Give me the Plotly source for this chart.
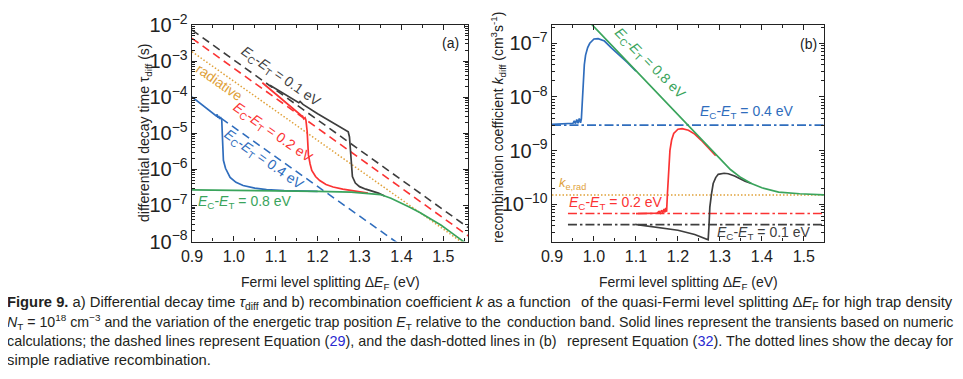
import plotly.graph_objects as go

# The page body keeps its default 8px margin, so the figure is made 16px smaller
# and every screen position below is measured in the 963x379 window.
WIN_W, WIN_H = 963, 379
OFF = 8
W, H = WIN_W - 2 * OFF, WIN_H - 2 * OFF

# ---------------- Panel (a): differential decay time tau_diff (s) ----------------
a_x_08 = [0.90, 1.00, 1.10, 1.20, 1.28, 1.32, 1.35, 1.375, 1.40, 1.42, 1.445, 1.47, 1.495, 1.52, 1.545, 1.56]
a_tau_08 = [2.69e-7, 2.63e-7, 2.51e-7, 2.45e-7, 2.34e-7, 2.19e-7, 2.0e-7, 1.58e-7, 1.17e-7, 8.9e-8,
            6.3e-8, 4.27e-8, 2.82e-8, 1.74e-8, 1.05e-8, 7.9e-9]

a_x_04 = [0.90, 0.93, 0.955, 0.958, 0.960, 0.962, 0.964, 0.966, 0.968, 0.971, 0.973, 0.975, 0.98, 0.991,
          1.005, 1.022, 1.05, 1.078, 1.12, 1.20]
a_tau_04 = [1.02e-4, 5.5e-5, 3.31e-5, 3.0e-5, 3.3e-5, 2.7e-5, 3.0e-5, 2.5e-5, 2.8e-5, 2.4e-5, 6.3e-6,
            1.78e-6, 1.07e-6, 6.0e-7, 4.37e-7, 3.55e-7, 3.02e-7, 2.75e-7, 2.57e-7, 2.45e-7]

a_x_02 = [1.068, 1.10, 1.14, 1.16, 1.164, 1.167, 1.170, 1.172, 1.175, 1.178, 1.182, 1.186, 1.195, 1.205,
          1.22, 1.237, 1.26, 1.285, 1.32]
a_tau_02 = [2.51e-4, 1.2e-4, 4.79e-5, 3.16e-5, 3.0e-5, 2.5e-5, 2.7e-5, 2.29e-5, 1.12e-5, 2.51e-6, 1.41e-6,
            9.3e-7, 6.3e-7, 4.9e-7, 3.8e-7, 3.24e-7, 2.82e-7, 2.51e-7, 2.19e-7]

a_x_01 = [1.086, 1.12, 1.15, 1.155, 1.158, 1.162, 1.165, 1.20, 1.24, 1.273, 1.276, 1.278, 1.280, 1.283,
          1.29, 1.30, 1.315, 1.33, 1.345, 1.36]
a_tau_01 = [2.14e-4, 1.24e-4, 7.76e-5, 7.0e-5, 7.6e-5, 6.6e-5, 6.31e-5, 3.47e-5, 1.86e-5, 1.1e-5, 7.9e-6,
            3.55e-6, 1.12e-6, 6.3e-7, 4.17e-7, 3.31e-7, 2.82e-7, 2.51e-7, 2.19e-7, 1.82e-7]

# Equation (29) (dashed) and radiative (dotted)
a_eq_x_01 = [0.90, 1.56]
a_eq_tau_01 = [7.24e-3, 2.41e-8]
a_eq_x_02 = [0.90, 1.56]
a_eq_tau_02 = [4.27e-3, 1.42e-8]
a_eq_x_04 = [0.97, 1.40]
a_eq_tau_04 = [2.57e-5, 7.66e-9]
a_rad_x = [0.90, 1.56]
a_rad_tau = [1.82e-3, 7.1e-9]

# ---------------- Panel (b): recombination coefficient k_diff (cm^3 s^-1) ----------------
b_x_08 = [0.99, 1.25, 1.275, 1.30, 1.325, 1.35, 1.375, 1.40, 1.44, 1.49, 1.55]
b_k_08 = [2.45e-7, 1.78e-9, 1.12e-9, 6.9e-10, 4.47e-10, 3.16e-10, 2.45e-10, 2.04e-10, 1.7e-10, 1.58e-10,
          1.51e-10]

b_x_04 = [0.90, 0.93, 0.95, 0.953, 0.956, 0.959, 0.962, 0.965, 0.968, 0.970, 0.972, 0.974, 0.977, 0.980,
          0.985, 0.99, 1.0, 1.01, 1.025, 1.042, 1.055, 1.08, 1.10]
b_k_04 = [3.09e-9, 3.16e-9, 3.24e-9, 3.6e-9, 3.2e-9, 3.8e-9, 3.25e-9, 4.0e-9, 3.3e-9, 3.9e-9, 7.94e-9,
          2.0e-8, 3.98e-8, 6.03e-8, 8.32e-8, 1.0e-7, 1.2e-7, 1.22e-7, 1.1e-7, 8.13e-8, 6.61e-8, 4.37e-8,
          3.02e-8]

b_x_02 = [1.10, 1.13, 1.15, 1.155, 1.158, 1.161, 1.164, 1.167, 1.169, 1.171, 1.173, 1.175, 1.178, 1.181,
          1.185, 1.19, 1.20, 1.21, 1.225, 1.24, 1.255, 1.27, 1.29]
b_k_02 = [6.76e-11, 6.85e-11, 6.9e-11, 7.4e-11, 6.9e-11, 7.8e-11, 7.0e-11, 8.2e-11, 7.1e-11, 8.6e-11,
          7.3e-11, 1.58e-10, 5.0e-10, 1.02e-9, 1.58e-9, 2.09e-9, 2.51e-9, 2.57e-9, 2.4e-9, 2.04e-9,
          1.58e-9, 1.17e-9, 8.1e-10]

b_x_01 = [1.098, 1.15, 1.20, 1.24, 1.256, 1.272, 1.274, 1.276, 1.28, 1.284, 1.29, 1.296, 1.31, 1.32,
          1.335, 1.348, 1.36, 1.375]
b_k_01 = [4.27e-11, 3.8e-11, 3.31e-11, 2.75e-11, 2.45e-11, 2.19e-11, 3.98e-11, 8.9e-11, 1.58e-10,
          2.45e-10, 3.16e-10, 3.63e-10, 3.8e-10, 3.72e-10, 3.39e-10, 3.02e-10, 2.69e-10, 2.45e-10]

# Equation (32) (dash-dotted) and radiative k (dotted)
b_eq_x_04 = [0.90, 1.55]
b_eq_k_04 = [3.0e-9, 3.0e-9]
b_eq_x_02 = [0.938, 1.55]
b_eq_k_02 = [6.8e-11, 6.8e-11]
b_eq_x_01 = [0.938, 1.55]
b_eq_k_01 = [4.2e-11, 4.2e-11]
b_rad_x = [0.90, 1.55]
b_rad_k = [1.5e-10, 1.5e-10]

x_ticks = [0.9, 1.0, 1.1, 1.2, 1.3, 1.4, 1.5]
x_tick_text = ["0.9", "1.0", "1.1", "1.2", "1.3", "1.4", "1.5"]

# ---------------- styles ----------------
C_BLACK = "#3e3e3e"
C_RED = "#fb3333"
C_BLUE = "#2f6dbd"
C_GREEN = "#3aa45c"
C_ORANGE = "#e0a13a"
DASH = "8px,5px"
DASHDOT = "9px,3px,2.5px,3px"
DOT = "1.5px,2px"

fig = go.Figure()


def line(x, y, color, ax, width=1.7, dash="solid"):
    fig.add_trace(go.Scatter(
        x=x, y=y, mode="lines", xaxis="x" if ax == 1 else "x2", yaxis="y" if ax == 1 else "y2",
        line=dict(color=color, width=width, dash=dash), showlegend=False, hoverinfo="skip"))


# panel (a)
line(a_eq_x_01, a_eq_tau_01, C_BLACK, 1, 1.6, DASH)
line(a_eq_x_02, a_eq_tau_02, C_RED, 1, 1.6, DASH)
line(a_eq_x_04, a_eq_tau_04, C_BLUE, 1, 1.6, DASH)
line(a_rad_x, a_rad_tau, C_ORANGE, 1, 1.5, DOT)
line(a_x_01, a_tau_01, C_BLACK, 1)
line(a_x_02, a_tau_02, C_RED, 1)
line(a_x_04, a_tau_04, C_BLUE, 1)
line(a_x_08, a_tau_08, C_GREEN, 1)

# panel (b)
line(b_eq_x_04, b_eq_k_04, C_BLUE, 2, 1.6, DASHDOT)
line(b_eq_x_02, b_eq_k_02, C_RED, 2, 1.6, DASHDOT)
line(b_eq_x_01, b_eq_k_01, C_BLACK, 2, 1.6, DASHDOT)
line(b_rad_x, b_rad_k, C_ORANGE, 2, 1.5, DOT)
line(b_x_01, b_k_01, C_BLACK, 2)
line(b_x_02, b_k_02, C_RED, 2)
line(b_x_04, b_k_04, C_BLUE, 2)
line(b_x_08, b_k_08, C_GREEN, 2)


def px(xp):
    return (xp - OFF) / W


def py(yp):
    return 1 - (yp - OFF) / H


FONT = "Liberation Sans, Arial, sans-serif"
AX_COL = "#222222"
tickfont = dict(family=FONT, size=16, color=AX_COL)

common_x = dict(
    tickvals=x_ticks, ticktext=x_tick_text, ticks="inside", ticklen=5, tickwidth=1.2, tickcolor=AX_COL,
    showline=True, linecolor=AX_COL, linewidth=1.3, mirror="allticks", showgrid=False, zeroline=False,
    automargin=False, tickfont=tickfont,
    minor=dict(dtick=0.05, ticks="inside", ticklen=3, tickcolor=AX_COL, tickwidth=1, showgrid=False),
)
common_y = dict(
    type="log", dtick=1, exponentformat="power", ticks="inside", ticklen=5, tickwidth=1.2, tickcolor=AX_COL,
    showline=True, linecolor=AX_COL, linewidth=1.3, mirror="allticks", showgrid=False, zeroline=False,
    automargin=False, tickfont=tickfont,
    minor=dict(dtick="D1", ticks="inside", ticklen=3, tickcolor=AX_COL, tickwidth=1, showgrid=False),
)

fig.update_layout(
    template="none",
    width=W, height=H, autosize=False,
    margin=dict(l=0, r=0, t=0, b=0, pad=0),
    paper_bgcolor="white", plot_bgcolor="white",
    font=dict(family=FONT, color=AX_COL),
    xaxis=dict(domain=[px(192), px(468)], range=[0.9, 1.559], anchor="y", **common_x),
    yaxis=dict(domain=[py(241.5), py(25)], range=[-8, -2], anchor="x", **common_y),
    xaxis2=dict(domain=[px(552), px(824)], range=[0.9, 1.548], anchor="y2", **common_x),
    yaxis2=dict(domain=[py(241.5), py(25)], range=[-10.69, -6.66], anchor="x2", **common_y),
)

ann = []


def text(x, y, s, color=AX_COL, size=14, angle=0, xanchor="center", yanchor="middle", family=FONT):
    ann.append(dict(x=px(x), y=py(y), xref="paper", yref="paper", text=s, showarrow=False,
                    textangle=angle, xanchor=xanchor, yanchor=yanchor,
                    font=dict(family=family, size=size, color=color)))


ECET = "<i>E</i><sub>C</sub>-<i>E</i><sub>T</sub>"
# axis titles
text(145, 133, "differential decay time \u03c4<sub>diff</sub> (s)", size=14, angle=-90)
text(330, 283, "Fermi level splitting \u0394<i>E</i><sub>F</sub> (eV)", size=14)
text(498, 128, "recombination coefficient <i>k</i><sub>diff</sub> (cm<sup>3</sup>s<sup>-1</sup>)", size=14, angle=-90)
text(688, 283, "Fermi level splitting \u0394<i>E</i><sub>F</sub> (eV)", size=14)

# panel (a) labels
text(450, 43, "(a)", size=14)
text(281, 77, ECET + " = 0.1 eV", color=C_BLACK, size=14, angle=35)
text(219, 82, "radiative", color=C_ORANGE, size=14, angle=35)
text(273, 133, ECET + " = 0.2 eV", color=C_RED, size=14, angle=35)
text(264, 160, ECET + " = 0.4 eV", color=C_BLUE, size=14, angle=35)
text(196, 202, ECET + " = 0.8 eV", color=C_GREEN, size=14, xanchor="left")

# panel (b) labels
text(808, 44, "(b)", size=14)
text(650, 64, ECET + " = 0.8 eV", color=C_GREEN, size=14, angle=45)
text(698, 112, ECET + " = 0.4 eV", color=C_BLUE, size=14, xanchor="left")
text(557, 183, "<i>k</i><sub>e,rad</sub>", color=C_ORANGE, size=13, xanchor="left")
text(567, 203, ECET + " = 0.2 eV", color=C_RED, size=14, xanchor="left")
text(715, 233, ECET + " = 0.1 eV", color=C_BLACK, size=14, xanchor="left")

# caption (justified lines: left part anchored left, right part anchored right)
CAP = "Liberation Sans, Arial, sans-serif"
CAPC = "#231f20"
LNK = "#2a2ad0"
cap_lines = [
    ("<b>Figure 9.</b> a) Differential decay time <i>\u03c4</i><sub>diff</sub> and b) recombination coefficient <i>k</i> as a function",
     "of the quasi-Fermi level splitting \u0394<i>E</i><sub>F</sub> for high trap density", 14.75),
    ("<i>N</i><sub>T</sub> = 10<sup>18</sup> cm<sup>\u22123</sup> and the variation of the energetic trap position <i>E</i><sub>T</sub> relative to the",
     "conduction band. Solid lines represent the transients based on numeric", 14.2),
    ("calculations; the dashed lines represent Equation (<span style='color:" + LNK + "'>29</span>), and the dash-dotted lines in (b)",
     "represent Equation (<span style='color:" + LNK + "'>32</span>). The dotted lines show the decay for", 14.4),
]
cap_y = [303, 322, 341]
for (l, r, fs), yy in zip(cap_lines, cap_y):
    text(5, yy, l, color=CAPC, size=fs, xanchor="left", family=CAP)
    text(955, yy, r, color=CAPC, size=fs, xanchor="right", family=CAP)
text(5, 360, "simple radiative recombination.", color=CAPC, size=14.8, xanchor="left", family=CAP)

fig.update_layout(annotations=ann)
fig.write_html("out.html")
